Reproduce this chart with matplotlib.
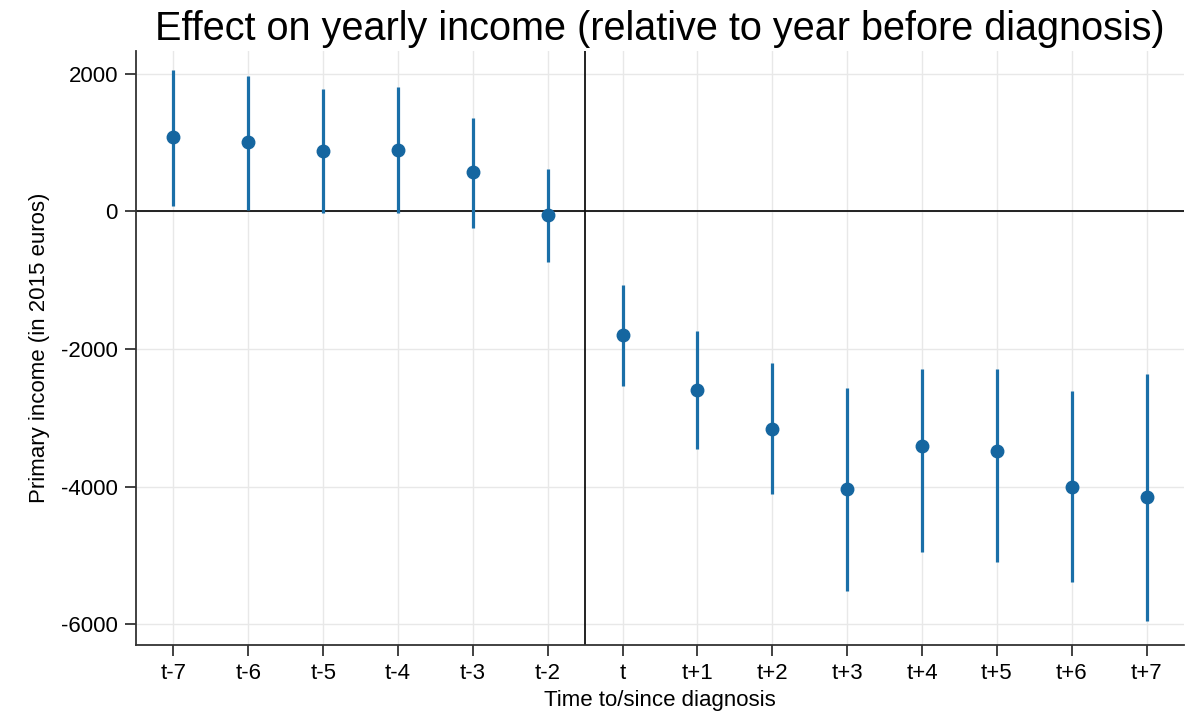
import matplotlib
matplotlib.use("Agg")
import matplotlib.pyplot as plt
import numpy as np

labels = ["t-7", "t-6", "t-5", "t-4", "t-3", "t-2", "t", "t+1", "t+2", "t+3", "t+4", "t+5", "t+6", "t+7"]
estimate = [1074, 1001, 871, 885, 566, -58, -1800, -2598, -3164, -4035, -3411, -3483, -4006, -4151]
ci_upper = [2061, 1974, 1785, 1800, 1350, 610, -1074, -1742, -2206, -2569, -2293, -2293, -2612, -2366]
ci_lower = [73, 15, -29, -29, -247, -740, -2540, -3454, -4107, -5515, -4949, -5094, -5385, -5950]

plt.rcParams['font.family'] = ['Liberation Sans', 'DejaVu Sans']
plt.rcParams['axes.unicode_minus'] = False

fig = plt.figure(figsize=(11.94, 7.18), dpi=100)
ax = fig.add_axes([136/1194, 1-645/718, (1184-136)/1194, (645-51)/718])

x = np.arange(len(labels))
color = '#1a6fa8'
est = np.array(estimate)
up = np.array(ci_upper)
lo = np.array(ci_lower)
ax.vlines(x, lo, up, color=color, linewidth=2.3, zorder=3)
ax.plot(x, est, 'o', color='#1566a0', markersize=9, zorder=4)

ax.axhline(0, color='#111111', linewidth=1.3, zorder=2)
ax.axvline(5.5, color='#111111', linewidth=1.3, zorder=2)

ax.set_xlim(-0.5, 13.5)
ax.set_ylim(-6300, 2330)
ax.set_xticks(x)
ax.set_xticklabels(labels)
ax.set_yticks([2000, 0, -2000, -4000, -6000])
ax.grid(True, color='#e8e8e8', linewidth=1, zorder=0)
ax.set_axisbelow(True)

for s in ['top', 'right']:
    ax.spines[s].set_visible(False)
for s in ['left', 'bottom']:
    ax.spines[s].set_color('#333333')
    ax.spines[s].set_linewidth(1.3)
ax.tick_params(axis='both', colors='#333333', labelcolor='black', labelsize=16, length=8, width=1.3, pad=5)

ax.set_xlabel("Time to/since diagnosis", fontsize=16, labelpad=4)
ax.set_ylabel("Primary income (in 2015 euros)", fontsize=16, labelpad=8)
ax.set_title("Effect on yearly income (relative to year before diagnosis)", fontsize=28.5, pad=8)

fig.savefig("out.png", dpi=100)
